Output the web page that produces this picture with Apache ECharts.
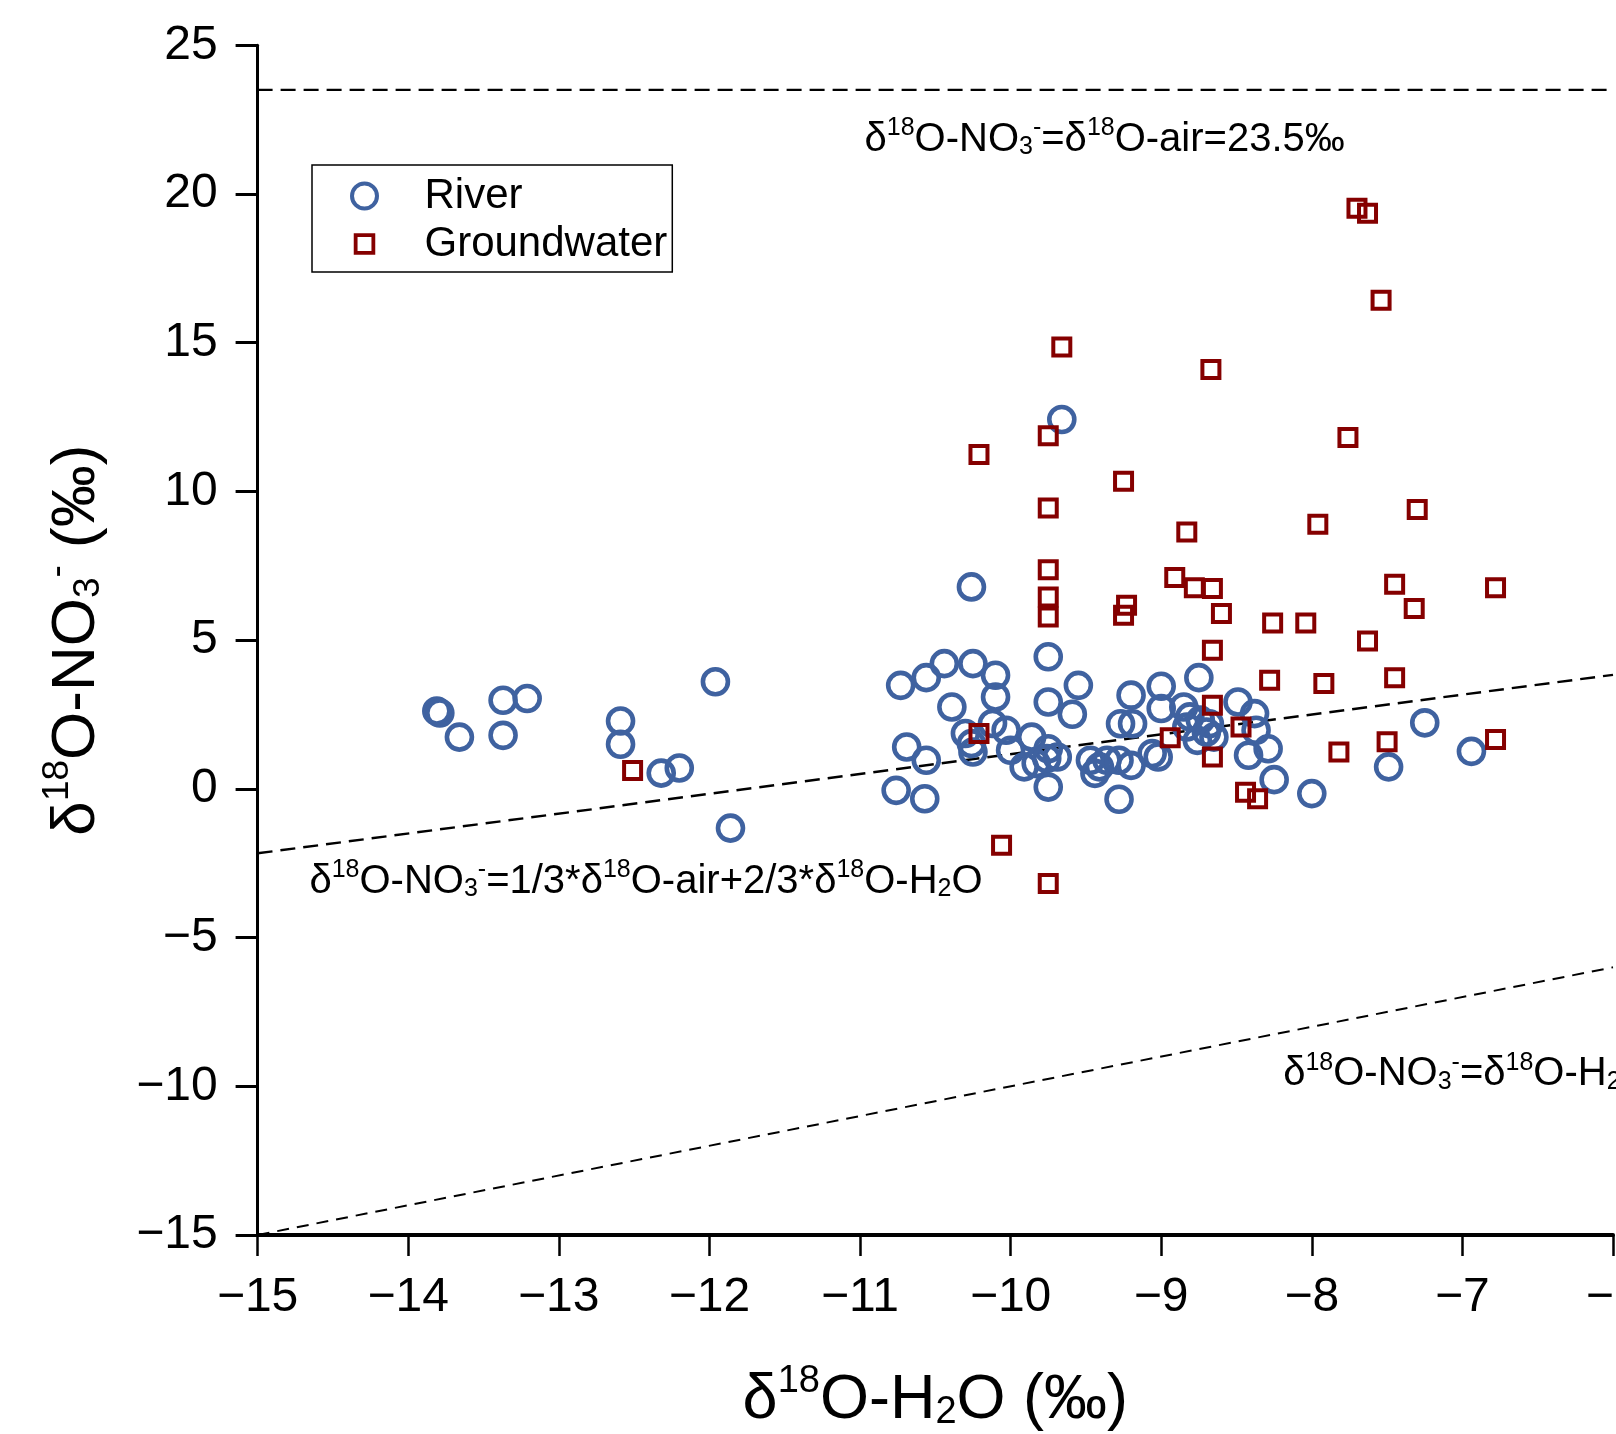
<!DOCTYPE html>
<html><head><meta charset="utf-8">
<script src="https://cdn.jsdelivr.net/npm/echarts@6/dist/echarts.min.js"></script>
<style>html,body{margin:0;padding:0;background:#fff}#chart{width:1616px;height:1434px}</style>
</head><body><div id="chart"></div>
<script>
// ---- data ----
const riverData = [
[-13.81,2.62],[-13.79,2.55],[-13.66,1.74],[-13.37,2.98],[-13.21,3.04],[-13.37,1.80],
[-12.59,2.28],[-12.59,1.50],[-12.32,0.53],[-12.20,0.70],[-11.96,3.60],[-11.86,-1.32],
[-10.73,3.48],[-10.56,3.74],[-10.44,4.21],[-10.25,4.21],[-10.10,3.82],[-10.10,3.09],[-10.39,2.75],[-10.26,6.79],
[-10.12,2.20],[-10.03,1.97],[-10.30,1.86],[-10.26,1.52],[-10.25,1.24],[-9.86,1.74],[-9.75,1.35],[-9.69,1.07],
[-10.00,1.30],[-9.91,0.74],[-9.83,0.85],[-9.76,1.02],[-9.75,0.06],[-10.69,1.41],[-10.56,0.96],[-10.76,-0.05],[-10.57,-0.33],
[-9.75,4.44],[-9.55,3.48],[-9.75,2.92],[-9.59,2.51],[-9.66,12.42],
[-9.47,0.96],[-9.41,0.74],[-9.36,0.96],[-9.44,0.52],[-9.28,-0.35],[-9.27,2.19],[-9.19,2.19],[-9.20,3.15],
[-9.00,3.45],[-9.00,2.70],[-8.75,3.74],[-8.85,2.75],[-8.81,2.42],[-8.74,2.31],[-8.68,2.19],[-8.70,1.91],[-8.76,1.63],[-8.65,1.74],[-8.83,2.08],
[-8.49,2.92],[-8.38,2.53],[-8.37,1.97],[-8.42,1.13],[-8.29,1.35],[-8.25,0.31],[-8.00,-0.16],
[-9.06,1.19],[-9.02,1.07],[-9.20,0.79],[-9.28,0.96],
[-7.25,2.22],[-7.49,0.74],[-6.94,1.26]
];
const groundwaterData = [
[-12.51,0.62],[-10.21,1.86],[-10.21,11.24],[-10.06,-1.90],
[-9.75,11.87],[-9.75,9.44],[-9.75,7.37],[-9.75,6.45],[-9.75,5.78],[-9.75,-3.18],
[-9.66,14.86],[-9.25,10.34],[-9.23,6.17],[-9.25,5.84],[-8.91,7.11],[-8.83,8.64],
[-8.78,6.76],[-8.66,6.74],[-8.60,5.90],[-8.67,14.10],[-8.66,4.66],[-8.66,2.81],[-8.66,1.07],
[-8.94,1.72],[-8.47,2.08],[-8.44,-0.11],[-8.36,-0.33],[-8.28,3.65],[-8.26,5.58],[-8.04,5.58],
[-7.96,8.90],[-7.92,3.54],[-7.82,1.24],[-7.76,11.81],[-7.70,19.52],[-7.63,19.35],[-7.54,16.43],
[-7.63,4.97],[-7.45,6.88],[-7.45,3.74],[-7.32,6.06],[-7.30,9.39],[-7.50,1.58],[-6.78,6.76],[-6.78,1.66]
];
const airLine = [[-15,23.5],[-6,23.5]];
const mixLine = [[-15,-2.1667],[-6,3.8333]];
const waterLine = [[-15,-15],[-6,-6]];
const annotationPoints = [[-10.97,21.90],[-14.656,-3.06],[-8.19,-9.53]];
const annotationTexts = [
  '{m|δ}{s|18}{m|O-NO}{b|3}{s|-}{m|=δ}{s|18}{m|O-air=23.5‰}',
  '{m|δ}{s|18}{m|O-NO}{b|3}{s|-}{m|=1/3*δ}{s|18}{m|O-air+2/3*δ}{s|18}{m|O-H}{b|2}{m|O}',
  '{m|δ}{s|18}{m|O-NO}{b|3}{s|-}{m|=δ}{s|18}{m|O-H}{b|2}{m|O}'
];
const xName = '{m|δ}{s|18}{m|O-H}{b|2}{m|O (‰)}';
const yName = '{m|δ}{s|18}{m|O-NO}{b|3}{s|-}{m| (‰)}';

// ---- styles ----
const FONT = '"Liberation Sans", Arial, Helvetica, sans-serif';
const BLUE = '#3f62a0';
const RED = '#850000';
function rich(F, f) {
  const L = Math.round(F * 1.1);
  return {
    m: {fontSize: F, lineHeight: L, verticalAlign: 'bottom', fontFamily: FONT, color: '#000'},
    s: {fontSize: f, lineHeight: Math.round(F * 0.64), verticalAlign: 'top', fontFamily: FONT, color: '#000'},
    b: {fontSize: f, lineHeight: Math.round(F * 0.22), verticalAlign: 'bottom', fontFamily: FONT, color: '#000'}
  };
}
const minus = v => (v < 0 ? '\u2212' + Math.abs(v) : String(v));
const dashLine = (name, data, w, dash) => ({
  name, type: 'line', data, symbol: 'none', silent: true, z: 1,
  lineStyle: {color: '#000', width: w, type: dash, opacity: 1}
});

const chart = echarts.init(document.getElementById('chart'), null, {renderer: 'canvas'});
chart.setOption({
  animation: false,
  backgroundColor: '#fff',
  grid: {left: 257.6, right: 3, top: 45.3, bottom: 199, containLabel: false, outerBoundsMode: 'none'},
  xAxis: {
    type: 'value', min: -15, max: -6, interval: 1,
    name: xName, nameLocation: 'middle', nameGap: 128,
    nameTextStyle: {rich: rich(63, 38)},
    axisLine: {show: true, onZero: false, lineStyle: {color: '#000', width: 4}},
    axisTick: {show: true, inside: false, length: 21, lineStyle: {color: '#000', width: 2.5}},
    axisLabel: {formatter: minus, fontSize: 48, fontFamily: FONT, color: '#000', margin: 39},
    splitLine: {show: false}
  },
  yAxis: {
    type: 'value', min: -15, max: 25, interval: 5,
    name: yName, nameLocation: 'middle', nameGap: 150,
    nameTextStyle: {rich: rich(62, 37)},
    axisLine: {show: true, onZero: false, lineStyle: {color: '#000', width: 3}},
    axisTick: {show: true, inside: false, length: 22, lineStyle: {color: '#000', width: 3}},
    axisLabel: {formatter: minus, fontSize: 48, fontFamily: FONT, color: '#000', margin: 40},
    splitLine: {show: false}
  },
  legend: {
    orient: 'vertical', left: 312, top: 165,
    data: [
      {name: 'River', icon: 'circle', itemStyle: {borderWidth: 4, opacity: 1}},
      {name: 'Groundwater', icon: 'path://M0,0M24,24M3.5,3.5H20.5V20.5H3.5Z', itemStyle: {borderWidth: 3.8, opacity: 1}}
    ],
    itemWidth: 60, itemHeight: 25, itemGap: 6,
    padding: [10, 5, 7, 38],
    borderColor: '#000', borderWidth: 1.5,
    formatter: n => '{a|' + n + '}',
    textStyle: {rich: {a: {fontSize: 42, lineHeight: 46, fontFamily: FONT, color: '#000', padding: [0, 0, 0, 25]}}},
    selectedMode: false
  },
  series: [
    dashLine('air', airLine, 2.4, [15, 8]),
    dashLine('mix', mixLine, 2.4, [15, 8]),
    dashLine('water', waterLine, 2, [12, 8]),
    {
      name: 'River', type: 'scatter', data: riverData, symbol: 'circle', symbolSize: 25, z: 3,
      itemStyle: {color: 'rgba(255,255,255,0)', borderColor: BLUE, borderWidth: 4.6, opacity: 1}
    },
    {
      name: 'Groundwater', type: 'scatter', data: groundwaterData, symbol: 'rect', symbolSize: 17, z: 4,
      itemStyle: {color: 'rgba(255,255,255,0)', borderColor: RED, borderWidth: 4, opacity: 1}
    },
    {
      name: 'annotations', type: 'scatter', symbol: 'circle', symbolSize: 0, silent: true, z: 5,
      itemStyle: {opacity: 1},
      data: annotationPoints.map((p, i) => ({value: p, label: {formatter: annotationTexts[i]}})),
      label: {show: true, position: 'right', distance: 0, color: '#000', textBorderWidth: 0, rich: rich(40, 25)}
    }
  ]
});
</script></body></html>
